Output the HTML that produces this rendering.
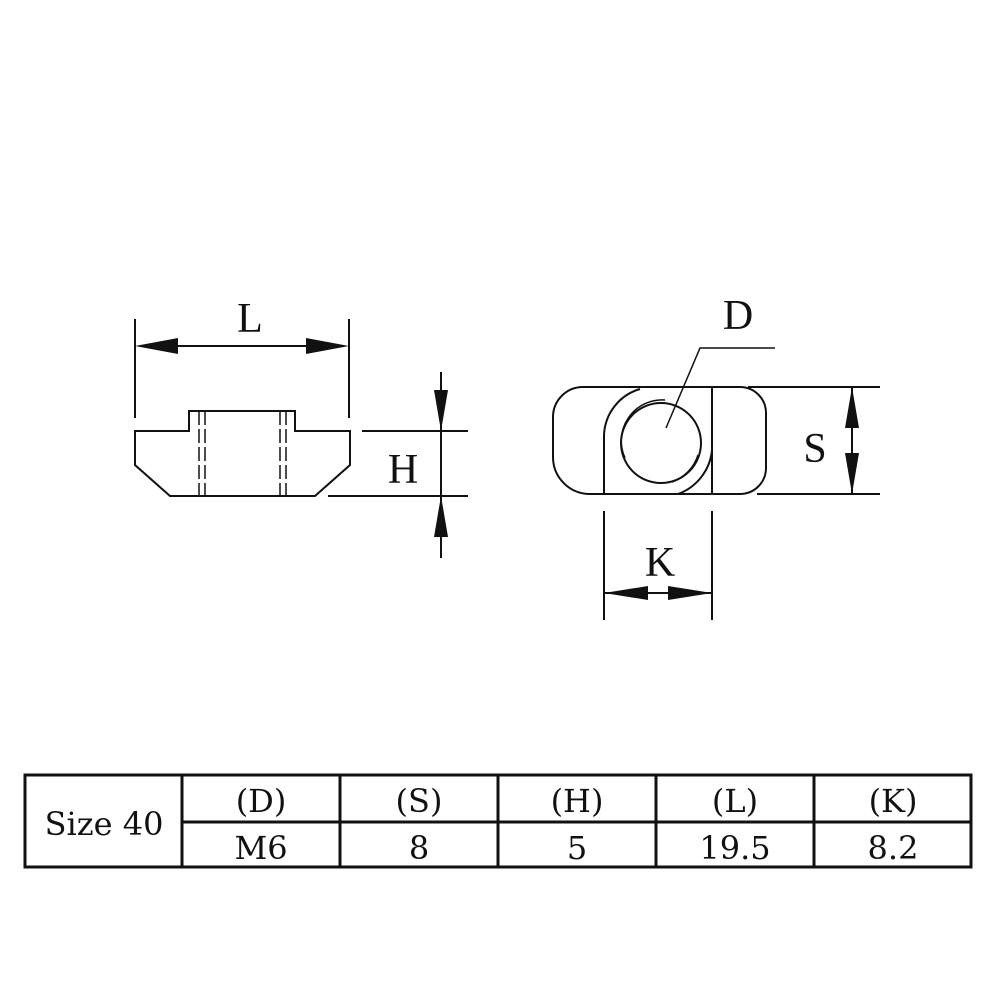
<!DOCTYPE html>
<html><head><style>
body{margin:0;background:#fff;}
svg{display:block;}
</style></head><body>
<svg width="1000" height="1000" viewBox="0 0 1000 1000" xmlns="http://www.w3.org/2000/svg">
<g stroke="#111" stroke-width="2" fill="none">
<line x1="135" y1="319" x2="135" y2="418"/>
<line x1="349" y1="319" x2="349" y2="418"/>
<line x1="150" y1="346" x2="335" y2="346"/>
<path d="M135 431 H189 V411 H295 V431 H350 V465 L315 496 H170 L135 465 Z"/>
<g stroke-width="1.5">
<line x1="199" y1="411" x2="199" y2="496" stroke-dasharray="14,4"/>
<line x1="205" y1="411" x2="205" y2="496" stroke-dasharray="14,4"/>
<line x1="280" y1="411" x2="280" y2="496" stroke-dasharray="14,4"/>
<line x1="286" y1="411" x2="286" y2="496" stroke-dasharray="14,4"/>
</g>
<line x1="362" y1="431" x2="468" y2="431"/>
<line x1="328" y1="496" x2="468" y2="496"/>
<line x1="441" y1="372" x2="441" y2="558"/>
<path d="M583 387 H740 A26 26 0 0 1 766 413 V468 A26 26 0 0 1 740 494 H590 A37 37 0 0 1 553 457 V417 A30 30 0 0 1 583 387 Z"/>
<line x1="712" y1="387" x2="712" y2="494"/>
<path d="M604 494 V435 A50 50 0 0 1 640 389"/>
<path d="M712 450 A52 52 0 0 1 678 494"/>
<circle cx="661" cy="443" r="40"/>
<path d="M625 458 A41 41 0 0 1 665 400" stroke-width="1.5"/>
<path d="M698 455 A42 42 0 0 1 672 482" stroke-width="1.5"/>
<path d="M666 428 L700 348 H775" stroke-width="1.5"/>
<line x1="748" y1="387" x2="880" y2="387"/>
<line x1="757" y1="494" x2="880" y2="494"/>
<line x1="852" y1="387" x2="852" y2="494"/>
<line x1="604" y1="511" x2="604" y2="620"/>
<line x1="712" y1="511" x2="712" y2="620"/>
<line x1="604" y1="593" x2="712" y2="593"/>
</g>
<g fill="#111">
<polygon points="135,346 178,338 178,354"/>
<polygon points="349,346 306,338 306,354"/>
<polygon points="441,431 434,390 448,390"/>
<polygon points="441,496 434,537 448,537"/>
<polygon points="852,387 845,428 859,428"/>
<polygon points="852,494 845,453 859,453"/>
<polygon points="604,593 648,586 648,600"/>
<polygon points="712,593 668,586 668,600"/>
</g>
<g font-family="Liberation Serif, serif" font-size="42" fill="#111" text-anchor="middle">
<text x="250" y="332">L</text>
<text x="403" y="483">H</text>
<text x="738" y="329">D</text>
<text x="815" y="462">S</text>
<text x="660" y="576">K</text>
</g>
<g stroke="#111" stroke-width="3" fill="none">
<rect x="25" y="775" width="946" height="92"/>
<line x1="182" y1="822" x2="971" y2="822"/>
<line x1="182" y1="775" x2="182" y2="867"/>
<line x1="340" y1="775" x2="340" y2="867"/>
<line x1="498" y1="775" x2="498" y2="867"/>
<line x1="656" y1="775" x2="656" y2="867"/>
<line x1="814" y1="775" x2="814" y2="867"/>
</g>
<g font-family="DejaVu Serif, serif" font-size="32" fill="#111" text-anchor="middle">
<text x="104" y="835">Size 40</text>
<text x="261" y="812">(D)</text><text x="261" y="859">M6</text>
<text x="419" y="812">(S)</text><text x="419" y="859">8</text>
<text x="577" y="812">(H)</text><text x="577" y="859">5</text>
<text x="735" y="812">(L)</text><text x="735" y="859">19.5</text>
<text x="893" y="812">(K)</text><text x="893" y="859">8.2</text>
</g>
</svg>
</body></html>
